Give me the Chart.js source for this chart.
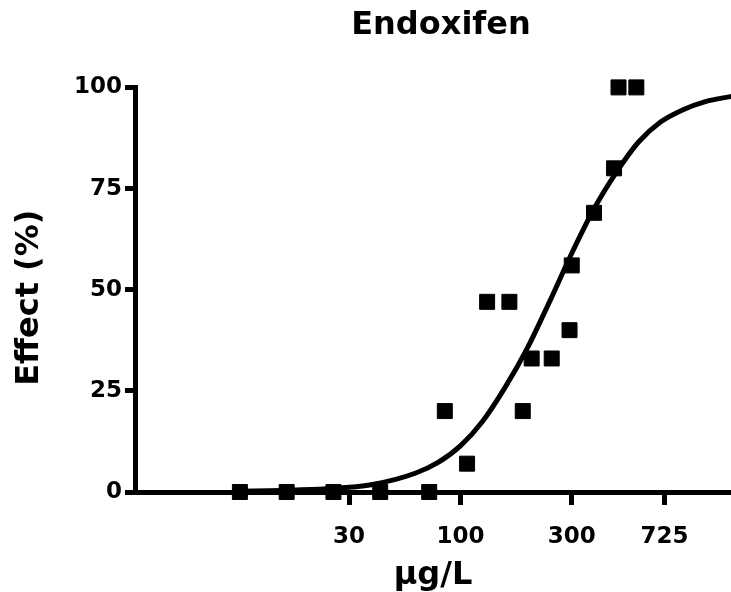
<!DOCTYPE html>
<html>
<head>
<meta charset="utf-8">
<title>Endoxifen</title>
<script src="https://cdn.jsdelivr.net/npm/chart.js@4.4.1/dist/chart.umd.min.js"></script>
<style>
  html, body { margin: 0; padding: 0; background: #fff; }
  #wrap { width: 731px; height: 592px; }
</style>
</head>
<body>
<div id="wrap"><canvas id="chart" width="731" height="592"></canvas></div>
<script>
// doses are kept as log10(µg/L), the axis is linear in log units
const doseLog = [1.01, 1.22, 1.43, 1.64, 1.86, 1.93, 2.03, 2.12, 2.22, 2.28, 2.32, 2.41, 2.49, 2.50, 2.60, 2.69, 2.71, 2.79];
const effect  = [0, 0, 0, 0, 0, 20, 7, 47, 47, 20, 33, 33, 40, 56, 69, 80, 100, 100];

// fitted dose-response curve
const fitLog    = [1.01, 1.20, 1.40, 1.60, 1.80, 1.90, 2.00, 2.10, 2.20, 2.30, 2.40, 2.50, 2.60, 2.70, 2.80, 2.90, 3.00, 3.10, 3.22];
const fitEffect = [0.2, 0.4, 0.8, 1.8, 4.7, 7.3, 11.4, 17.5, 25.8, 35.5, 47, 59, 70, 79, 86.5, 91.5, 94.5, 96.5, 97.8];

const xTickValues = [1.5, 2.0, 2.5, 2.916];
const xTickLabels = ['30', '100', '300', '725'];
const yTickValues = [0, 25, 50, 75, 100];

const FONT = 'DejaVu Sans';

const toPoints = (xs, ys) => xs.map((x, i) => ({ x: x, y: ys[i] }));

const ctx = document.getElementById('chart').getContext('2d');

new Chart(ctx, {
  type: 'scatter',
  data: {
    datasets: [
      {
        label: 'Fit',
        data: toPoints(fitLog, fitEffect),
        showLine: true,
        borderColor: '#000',
        borderWidth: 5,
        pointRadius: 0,
        cubicInterpolationMode: 'monotone',
        order: 2
      },
      {
        label: 'Endoxifen',
        data: toPoints(doseLog, effect),
        pointStyle: 'rect',
        pointRadius: 10.6,
        borderWidth: 1,
        backgroundColor: '#000',
        borderColor: '#000',
        clip: false,
        order: 1
      }
    ]
  },
  options: {
    responsive: false,
    animation: false,
    events: [],
    layout: { padding: 0, autoPadding: false },
    plugins: {
      legend: { display: false },
      tooltip: { enabled: false },
      title: {
        display: true,
        // leading en space nudges the title a little right of the plot centre
        text: '\u2002Endoxifen',
        fullSize: false,
        color: '#000',
        font: { family: FONT, weight: 'bold', size: 32, lineHeight: 1.2 },
        padding: { top: 6, bottom: 43 }
      }
    },
    scales: {
      x: {
        type: 'linear',
        min: 0.539,
        max: 3.215,
        afterFit: (scale) => { scale.height = 100; },
        afterBuildTicks: (scale) => {
          scale.ticks = xTickValues.map(v => ({ value: v }));
        },
        border: { display: true, color: '#000', width: 5 },
        grid: {
          drawOnChartArea: false,
          drawTicks: true,
          tickLength: 13,
          tickWidth: 5,
          tickColor: '#000'
        },
        ticks: {
          color: '#000',
          padding: 18,
          maxRotation: 0,
          font: { family: FONT, weight: 'bold', size: 23 },
          callback: (value, index) => xTickLabels[index]
        },
        title: {
          display: true,
          text: 'µg/L',
          color: '#000',
          font: { family: FONT, weight: 'bold', size: 32, lineHeight: 1 },
          padding: { top: 0, bottom: 0 }
        }
      },
      y: {
        type: 'linear',
        min: 0,
        max: 100,
        afterFit: (scale) => { scale.width = 135; },
        afterBuildTicks: (scale) => {
          scale.ticks = yTickValues.map(v => ({ value: v }));
        },
        border: { display: true, color: '#000', width: 5 },
        grid: {
          drawOnChartArea: false,
          drawTicks: true,
          tickLength: 10,
          tickWidth: 5,
          tickColor: '#000'
        },
        ticks: {
          color: '#000',
          padding: 3,
          font: { family: FONT, weight: 'bold', size: 23 }
        },
        title: {
          display: true,
          // trailing en space keeps the label slightly below the axis middle
          text: 'Effect (%)\u2002',
          color: '#000',
          font: { family: FONT, weight: 'bold', size: 32, lineHeight: 1 },
          padding: { top: 14, bottom: 0 }
        }
      }
    }
  }
});
</script>
</body>
</html>
